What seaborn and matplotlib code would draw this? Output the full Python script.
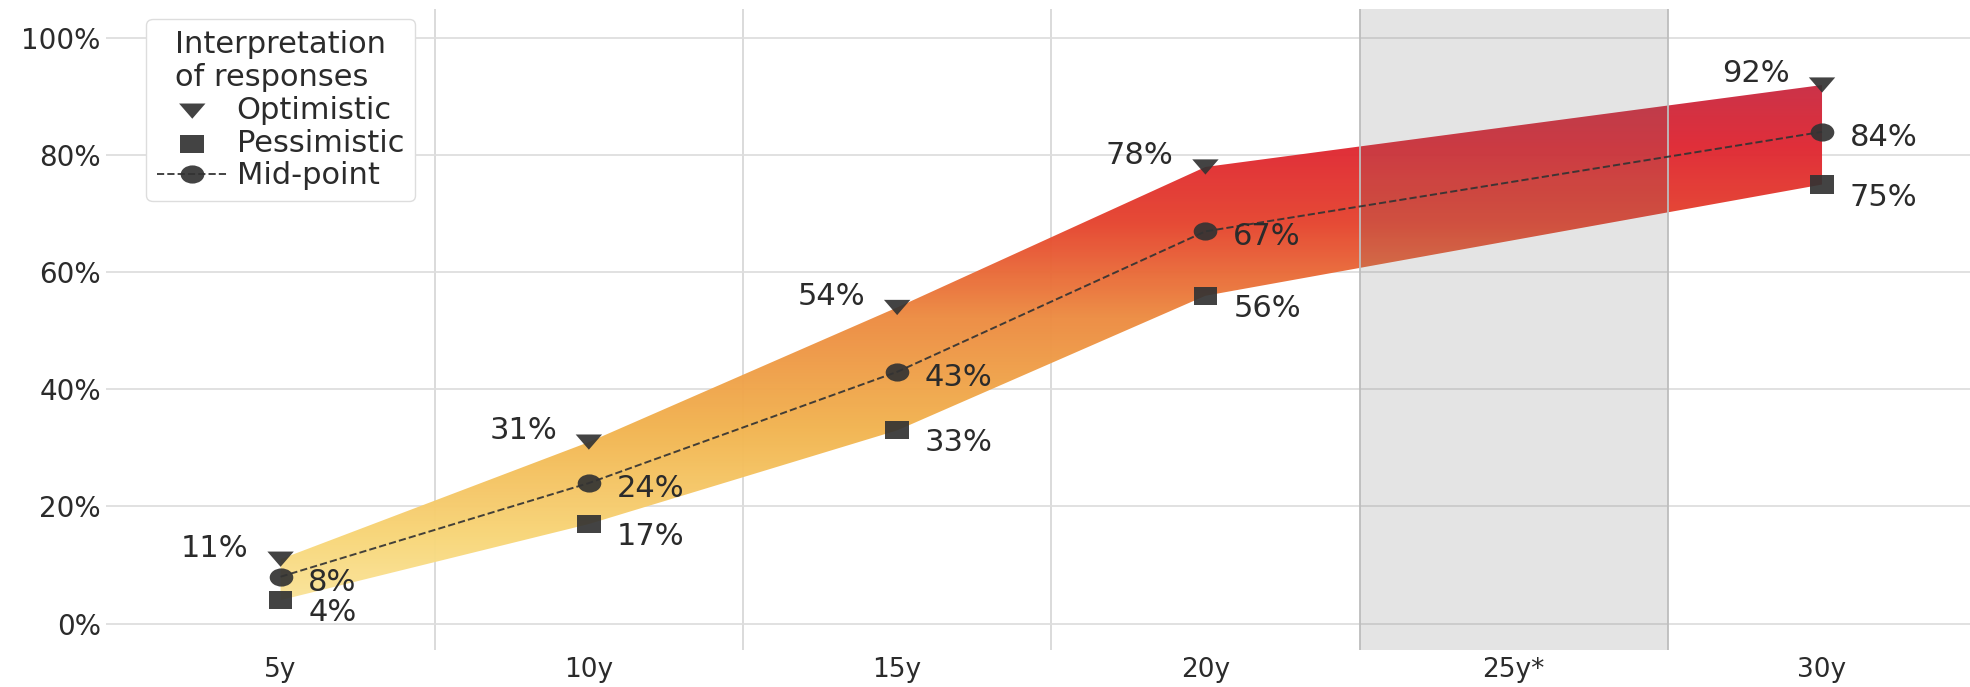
import numpy as np
import pandas as pd
import matplotlib
matplotlib.use("Agg")
import matplotlib.pyplot as plt
from matplotlib.colors import LinearSegmentedColormap
from matplotlib.ticker import PercentFormatter, FixedLocator
from matplotlib.path import Path
import seaborn as sns

categories = ["5y", "10y", "15y", "20y", "25y*", "30y"]
data_categories = ["5y", "10y", "15y", "20y", "30y"]
optimistic = [0.11, 0.31, 0.54, 0.78, 0.92]
pessimistic = [0.04, 0.17, 0.33, 0.56, 0.75]
midpoint = [0.08, 0.24, 0.43, 0.67, 0.84]
highlight_category = "25y*"

sns.set_theme(style="whitegrid")
plt.rcParams['font.family'] = ['DejaVu Sans']

pos = {c: i for i, c in enumerate(categories)}
xd = [pos[c] for c in data_categories]
df = pd.DataFrame({"x": xd, "opt": optimistic, "pes": pessimistic, "mid": midpoint})

# slightly wide marker shapes
SX = 1.3
tri = Path([(-SX, 0.75), (SX, 0.75), (0, -0.75), (-SX, 0.75)],
           [Path.MOVETO, Path.LINETO, Path.LINETO, Path.CLOSEPOLY])
sq = Path([(-SX * 0.75, -0.75), (SX * 0.75, -0.75), (SX * 0.75, 0.75), (-SX * 0.75, 0.75), (-SX * 0.75, -0.75)],
          [Path.MOVETO, Path.LINETO, Path.LINETO, Path.LINETO, Path.CLOSEPOLY])
uc = Path.unit_circle()
ell = Path(uc.vertices * np.array([SX, 1.0]), uc.codes)

fig = plt.figure(figsize=(19.7, 6.87), dpi=100)
ax = fig.add_axes([0.054, 0.054, 0.946, 0.933])

XL = (-0.565, 5.48)
YL = (-0.045, 1.05)

# gradient fill between pessimistic and optimistic
cmap = LinearSegmentedColormap.from_list("band", [
    (0.0, "#fbe8a6"), (0.15, "#f8d77a"), (0.35, "#f2b450"),
    (0.55, "#ed8c42"), (0.72, "#e6452f"), (0.86, "#df2833"), (1.0, "#c42d48")])
poly = ax.fill_between(df["x"], df["pes"], df["opt"], facecolor="none", edgecolor="none", zorder=2)
grad = np.linspace(0, 1, 256).reshape(-1, 1)
im = ax.imshow(grad, cmap=cmap, origin="lower", aspect="auto",
               extent=[-0.6, 5.6, 0.0, 0.95], zorder=2, alpha=0.97)
im.set_clip_path(poly.get_paths()[0], transform=ax.transData)
ax.set_xlim(*XL)
ax.set_ylim(*YL)

mc = "#333333"
sns.lineplot(data=df, x="x", y="mid", ax=ax, color=mc, linestyle="--", linewidth=1.4,
             marker=ell, markersize=17, markeredgewidth=0, label="Mid-point", zorder=4, alpha=0.92)
sns.scatterplot(data=df, x="x", y="opt", ax=ax, marker=tri, s=19**2, color=mc, edgecolor="none",
                label="Optimistic", zorder=5, alpha=0.92)
sns.scatterplot(data=df, x="x", y="pes", ax=ax, marker=sq, s=17**2, color=mc, edgecolor="none",
                label="Pessimistic", zorder=5, alpha=0.92)

# highlighted category band
hp = pos[highlight_category]
ax.axvspan(hp - 0.5, hp + 0.5, facecolor="#6e6e6e", alpha=0.18, edgecolor="none", zorder=3)
ax.axvline(hp - 0.5, color="#bdbdbd", linewidth=1.3, zorder=3)
ax.axvline(hp + 0.5, color="#bdbdbd", linewidth=1.3, zorder=3)

tc = "#2b2b2b"
fs = 22
for x, o, p, m in zip(df["x"], df["opt"], df["pes"], df["mid"]):
    ax.annotate(f"{o*100:.0f}%", (x, o), xytext=(-23, 8), textcoords="offset points",
                ha="right", va="center", fontsize=fs, color=tc, zorder=6)
    ax.annotate(f"{m*100:.0f}%", (x, m), xytext=(20, -4), textcoords="offset points",
                ha="left", va="center", fontsize=fs, color=tc, zorder=6)
    ax.annotate(f"{p*100:.0f}%", (x, p), xytext=(20, -9), textcoords="offset points",
                ha="left", va="center", fontsize=fs, color=tc, zorder=6)

ax.set_xticks(range(len(categories)))
ax.set_xticklabels(categories)
ax.xaxis.set_minor_locator(FixedLocator([0.5, 1.5, 2.5]))
ax.set_yticks(np.arange(0, 1.01, 0.2))
ax.yaxis.set_major_formatter(PercentFormatter(1.0, decimals=0))
ax.grid(False)
ax.grid(True, axis="y", which="major", color="#dedede", linewidth=1.3, zorder=0)
ax.grid(True, axis="x", which="minor", color="#d8d8d8", linewidth=1.3, zorder=0)
ax.tick_params(axis="y", which="major", labelsize=20, colors=tc, length=0, pad=4)
ax.tick_params(axis="x", which="major", labelsize=19, colors=tc, length=0, pad=5)
ax.tick_params(axis="x", which="minor", length=0)
ax.set_xlabel("")
ax.set_ylabel("")
for s in ax.spines.values():
    s.set_visible(False)

h, l = ax.get_legend_handles_labels()
order = [l.index("Optimistic"), l.index("Pessimistic"), l.index("Mid-point")]
leg = ax.legend([h[i] for i in order], [l[i] for i in order],
                title="Interpretation\nof responses", loc="upper left",
                bbox_to_anchor=(0.0215, 0.984), fontsize=fs, title_fontsize=fs,
                frameon=True, framealpha=1.0, edgecolor="#dddddd", borderpad=0.35,
                handlelength=2.3, handletextpad=0.3, labelspacing=0.12, borderaxespad=0)
leg.get_title().set_multialignment("left")
for t in leg.get_texts():
    t.set_color(tc)
leg.get_title().set_color(tc)

fig.savefig("out.png", dpi=100)
